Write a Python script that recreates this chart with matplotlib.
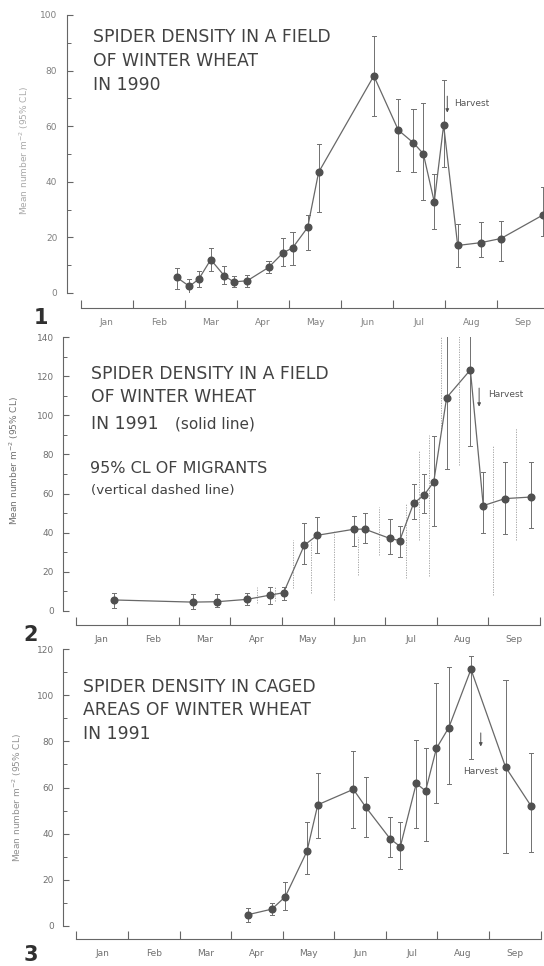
import matplotlib
matplotlib.use("Agg")
import matplotlib.pyplot as plt

plt.rcParams['font.family'] = ['DejaVu Sans']

months = ['Jan', 'Feb', 'Mar', 'Apr', 'May', 'Jun', 'Jul', 'Aug', 'Sep']

# Panel 1: field, 1990 (x in months from 1 Jan)
x1 = [1.85, 2.09, 2.27, 2.50, 2.76, 2.94, 3.20, 3.61, 3.89, 4.07, 4.36, 4.57,
      5.63, 6.10, 6.39, 6.58, 6.79, 6.97, 7.24, 7.68, 8.07, 8.88]
y1 = [5.6, 2.4, 5.0, 12.0, 6.2, 4.0, 4.4, 9.2, 14.5, 16.2, 23.6, 43.4,
      78.1, 58.6, 54.0, 50.1, 32.8, 60.4, 17.1, 18.1, 19.6, 28.1]
lo1 = [1.6, 0.0, 2.2, 8.0, 3.4, 2.2, 2.2, 7.2, 9.6, 10.1, 15.6, 29.3,
       63.7, 44.0, 43.4, 33.5, 23.0, 45.3, 9.3, 12.8, 11.6, 20.4]
hi1 = [9.0, 5.1, 7.8, 16.2, 9.6, 6.2, 6.5, 11.6, 19.8, 21.8, 28.0, 53.5,
       92.5, 69.7, 66.2, 68.3, 42.8, 76.6, 24.9, 25.6, 26.0, 38.0]

# Panel 2: field, 1991
x2 = [0.74, 2.27, 2.74, 3.32, 3.77, 4.03, 4.43, 4.68, 5.39, 5.60, 6.09, 6.28,
      6.55, 6.75, 6.94, 7.19, 7.65, 7.90, 8.32, 8.82]
y2 = [5.5, 4.4, 4.6, 5.8, 8.0, 9.2, 33.5, 38.6, 41.7, 41.8, 37.0, 35.9,
      55.0, 59.1, 65.9, 109.1, 123.3, 53.8, 57.4, 58.2]
lo2 = [1.4, 1.0, 1.7, 2.7, 3.6, 5.3, 23.7, 29.4, 33.3, 34.5, 29.0, 27.3,
       47.0, 49.9, 43.5, 72.4, 84.3, 39.6, 39.1, 42.2]
hi2 = [8.9, 8.4, 8.5, 8.9, 12.3, 12.0, 44.7, 48.1, 48.5, 49.9, 47.0, 43.4,
       64.7, 70.0, 89.6, 150.0, 150.0, 71.2, 76.3, 76.3]

# Panel 2: 95% CL of migrants (vertical dashed lines)
mx = [3.52, 3.86, 4.22, 4.56, 5.01, 5.48, 5.88, 6.41, 6.66, 6.84, 7.08, 7.43, 8.09, 8.53]
mlo = [4.0, 5.0, 11.6, 9.1, 5.5, 18.3, 28.5, 16.7, 36.0, 18.0, 92.0, 74.5, 8.0, 36.0]
mhi = [12.3, 12.5, 36.2, 35.3, 41.3, 37.9, 53.2, 55.0, 82.0, 90.0, 150.0, 150.0, 84.8, 93.5]

# Panel 3: caged areas, 1991
x3 = [3.33, 3.79, 4.05, 4.47, 4.68, 5.37, 5.61, 6.08, 6.28, 6.59, 6.77, 6.98,
      7.22, 7.65, 8.32, 8.82]
y3 = [4.8, 7.2, 12.6, 32.3, 52.5, 59.2, 51.5, 37.8, 34.3, 61.8, 58.5, 77.0,
      86.0, 111.3, 68.9, 51.8]
lo3 = [1.6, 4.5, 6.8, 22.3, 37.9, 42.4, 38.5, 29.7, 24.5, 42.3, 36.8, 53.1,
       61.4, 72.4, 31.4, 32.1]
hi3 = [7.8, 9.7, 19.1, 45.2, 66.2, 76.0, 64.4, 47.3, 45.0, 80.6, 77.0, 105.2,
       112.2, 117.3, 106.7, 74.8]

W, H = 544, 966
fig = plt.figure(figsize=(W / 100, H / 100), dpi=100)
fig.patch.set_facecolor('white')

TXT = '#424242'
AX = '#666666'
LAB = '#707070'


def px_rect(left, right, y0, ytop):
    return [left / W, 1 - y0 / H, (right - left) / W, (y0 - ytop) / H]


def style_axes(ax, ymax, ystep, left_out, bottom_out, labcolor):
    ax.set_xlim(0, 9)
    ax.set_ylim(0, ymax)
    for s in ('top', 'right'):
        ax.spines[s].set_visible(False)
    ax.spines['left'].set_position(('outward', left_out))
    ax.spines['bottom'].set_position(('outward', bottom_out))
    ax.spines['left'].set_bounds(0, ymax)
    ax.spines['bottom'].set_bounds(0, 9)
    for s in ('left', 'bottom'):
        ax.spines[s].set_color(AX)
        ax.spines[s].set_linewidth(0.8)
    ax.patch.set_alpha(0)
    ax.set_xticks(range(10))
    ax.set_xticklabels([])
    ax.set_xticks([i + 0.5 for i in range(9)], minor=True)
    ax.set_xticklabels(months, minor=True)
    ax.tick_params(axis='x', which='major', direction='in', length=5.5, width=0.8, color=AX)
    ax.tick_params(axis='x', which='minor', length=0, pad=7, labelsize=6.5, labelcolor=labcolor)
    ax.set_yticks(range(0, ymax + 1, ystep))
    ax.set_yticks(range(ystep // 2, ymax, ystep), minor=True)
    ax.tick_params(axis='y', which='major', direction='in', length=4, width=0.8, color=AX,
                   labelsize=6.5, labelcolor=labcolor, pad=7)
    ax.tick_params(axis='y', which='minor', direction='in', length=3, width=0.7, color=AX)


def draw_series(ax, x, y, lo, hi):
    ax.vlines(x, lo, hi, colors='#707070', lw=0.7, zorder=2)
    for xi, l, h in zip(x, lo, hi):
        ax.plot([xi - 0.04, xi + 0.04], [l, l], color='#707070', lw=0.7, zorder=2)
        ax.plot([xi - 0.04, xi + 0.04], [h, h], color='#707070', lw=0.7, zorder=2)
    ax.plot(x, y, color='#686868', lw=0.9, zorder=3)
    ax.plot(x, y, 'o', color='#505050', ms=4.8, mec='#505050', zorder=4, clip_on=False)


def arrow(ax, x, ytop, ybot):
    ax.annotate('', xy=(x, ybot), xytext=(x, ytop),
                arrowprops=dict(arrowstyle='-|>', lw=0.7, color='#505050',
                                mutation_scale=5, shrinkA=0, shrinkB=0))


def ftext(x, y, s, size=12.4, color=TXT, **kw):
    fig.text(x / W, 1 - y / H, s, fontsize=size, color=color, va='center', **kw)


# ---------------- Panel 1 ----------------
ax1 = fig.add_axes(px_rect(80.5, 549.4, 293, 15))
style_axes(ax1, 100, 20, 9.7, 10.8, '#808080')
draw_series(ax1, x1, y1, lo1, hi1)
arrow(ax1, 7.04, 70.8, 64.9)
ax1.text(7.17, 68, 'Harvest', fontsize=6.5, color='#555555', va='center')
ftext(93, 37, 'SPIDER DENSITY IN A FIELD')
ftext(93, 61, 'OF WINTER WHEAT')
ftext(93, 85, 'IN 1990')
ftext(24, 150, 'Mean number m$^{-2}$ (95% CL)', size=6.5, color='#aaaaaa',
      rotation=90, ha='center')
ftext(41, 318, '1', size=15, color='#303030', ha='center', fontweight='bold')

# ---------------- Panel 2 ----------------
ax2 = fig.add_axes(px_rect(75.7, 540, 610.7, 337.3))
style_axes(ax2, 140, 20, 8.8, 10.3, LAB)
ax2.vlines(mx, mlo, mhi, colors='#9a9a9a', lw=0.6, linestyles=(0, (1.5, 1.5)), zorder=1)
draw_series(ax2, x2, y2, lo2, hi2)
arrow(ax2, 7.82, 114, 104.5)
ax2.text(7.99, 110.5, 'Harvest', fontsize=6.5, color='#555555', va='center')
ftext(91, 374, 'SPIDER DENSITY IN A FIELD')
ftext(91, 397, 'OF WINTER WHEAT')
ftext(91, 424, 'IN 1991')
ftext(175, 424, '(solid line)', size=11)
ftext(90, 469, '95% CL OF MIGRANTS', size=11.5)
ftext(91, 490, '(vertical dashed line)', size=9.7)
ftext(14, 460, 'Mean number m$^{-2}$ (95% CL)', size=6.5, color='#707070',
      rotation=90, ha='center')
ftext(30.5, 635, '2', size=15, color='#303030', ha='center', fontweight='bold')

# ---------------- Panel 3 ----------------
ax3 = fig.add_axes(px_rect(76.4, 540.6, 925.7, 649.3))
style_axes(ax3, 120, 20, 9.3, 9.6, LAB)
draw_series(ax3, x3, y3, lo3, hi3)
arrow(ax3, 7.84, 83.7, 77.8)
ax3.text(7.84, 66.9, 'Harvest', fontsize=6.5, color='#555555', va='center', ha='center')
ftext(83, 687, 'SPIDER DENSITY IN CAGED')
ftext(83, 710, 'AREAS OF WINTER WHEAT')
ftext(83, 734, 'IN 1991')
ftext(17, 797, 'Mean number m$^{-2}$ (95% CL)', size=6.5, color='#909090',
      rotation=90, ha='center')
ftext(30.5, 955, '3', size=15, color='#303030', ha='center', fontweight='bold')

fig.savefig('out.png', dpi=100, facecolor='white')
